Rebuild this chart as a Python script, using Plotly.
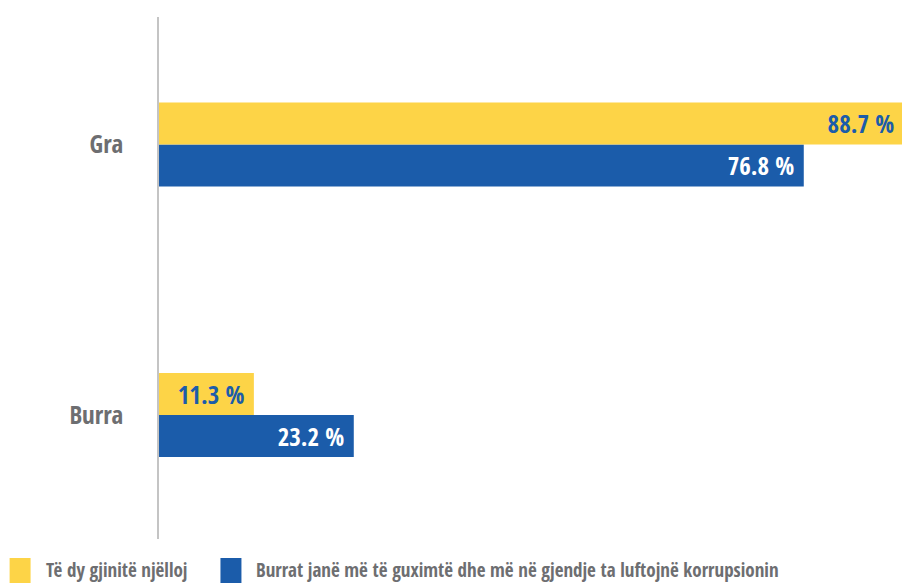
import plotly.graph_objects as go

# Survey answers by respondent group (percent)
categories = ["Gra", "Burra"]
series_names = [
    "Të dy gjinitë njëlloj",
    "Burrat janë më të guximtë dhe më në gjendje ta luftojnë korrupsionin",
]
equal_values = [88.7, 11.3]
men_values = [76.8, 23.2]

YELLOW = "#FDD447"
BLUE = "#1B5CAA"
GRAY = "#6D6E71"
FONT = "Open Sans Condensed, Roboto Condensed, DejaVu Sans Condensed, sans-serif"

W, H = 902, 587
M_L, M_R, M_T, M_B = 158.5, 0, 17, 48
PW, PH = W - M_L - M_R, H - M_T - M_B

fig = go.Figure()

# Blue trace first so that it sits below the yellow one within each group
fig.add_trace(go.Bar(
    y=categories, x=men_values, orientation="h", name=series_names[1],
    marker=dict(color=BLUE, line=dict(width=0)),
    texttemplate="%{x:.1f} %\u00a0", textposition="inside",
    insidetextanchor="end", textangle=0, constraintext="none",
    insidetextfont=dict(family=FONT, size=25, color="white", weight="bold"),
    showlegend=False, hoverinfo="x+y",
))
fig.add_trace(go.Bar(
    y=categories, x=equal_values, orientation="h", name=series_names[0],
    marker=dict(color=YELLOW, line=dict(width=0)),
    texttemplate="%{x:.1f} %\u00a0", textposition="inside",
    insidetextanchor="end", textangle=0, constraintext="none",
    insidetextfont=dict(family=FONT, size=25, color=BLUE, weight="bold"),
    showlegend=False, hoverinfo="x+y",
))


def px_x(x):
    return (x - M_L) / PW


def px_y(y):
    return (H - M_B - y) / PH


# Legend: coloured squares followed by series names
legend_items = [
    (series_names[0], YELLOW, 9, 43),
    (series_names[1], BLUE, 220, 254),
]
for name, color, sq_x, txt_x in legend_items:
    fig.add_shape(
        type="rect", xref="paper", yref="paper",
        x0=px_x(sq_x), x1=px_x(sq_x + 21), y0=px_y(583), y1=px_y(558),
        fillcolor=color, line=dict(width=0),
    )
    fig.add_annotation(
        text=name, xref="paper", yref="paper",
        x=px_x(txt_x), y=px_y(570), xanchor="left", yanchor="middle",
        showarrow=False,
        font=dict(family=FONT, size=19, color=GRAY, weight="bold"),
    )

fig.update_layout(
    width=W, height=H,
    margin=dict(l=M_L, r=M_R, t=M_T, b=M_B, pad=0),
    paper_bgcolor="white", plot_bgcolor="white",
    barmode="group", bargap=0.69, bargroupgap=0,
    showlegend=False,
    xaxis=dict(range=[0, 88.5], visible=False, fixedrange=True),
    yaxis=dict(
        type="category", categoryorder="array",
        categoryarray=["Burra", "Gra"],
        range=[-0.458, 1.471],
        showline=True, linecolor="#C4C4C4", linewidth=1.5,
        showgrid=False, zeroline=False, ticks="",
        ticklabelstandoff=29,
        tickfont=dict(family=FONT, size=25, color=GRAY, weight="bold"),
        fixedrange=True,
    ),
)

fig.write_html("out.html")
